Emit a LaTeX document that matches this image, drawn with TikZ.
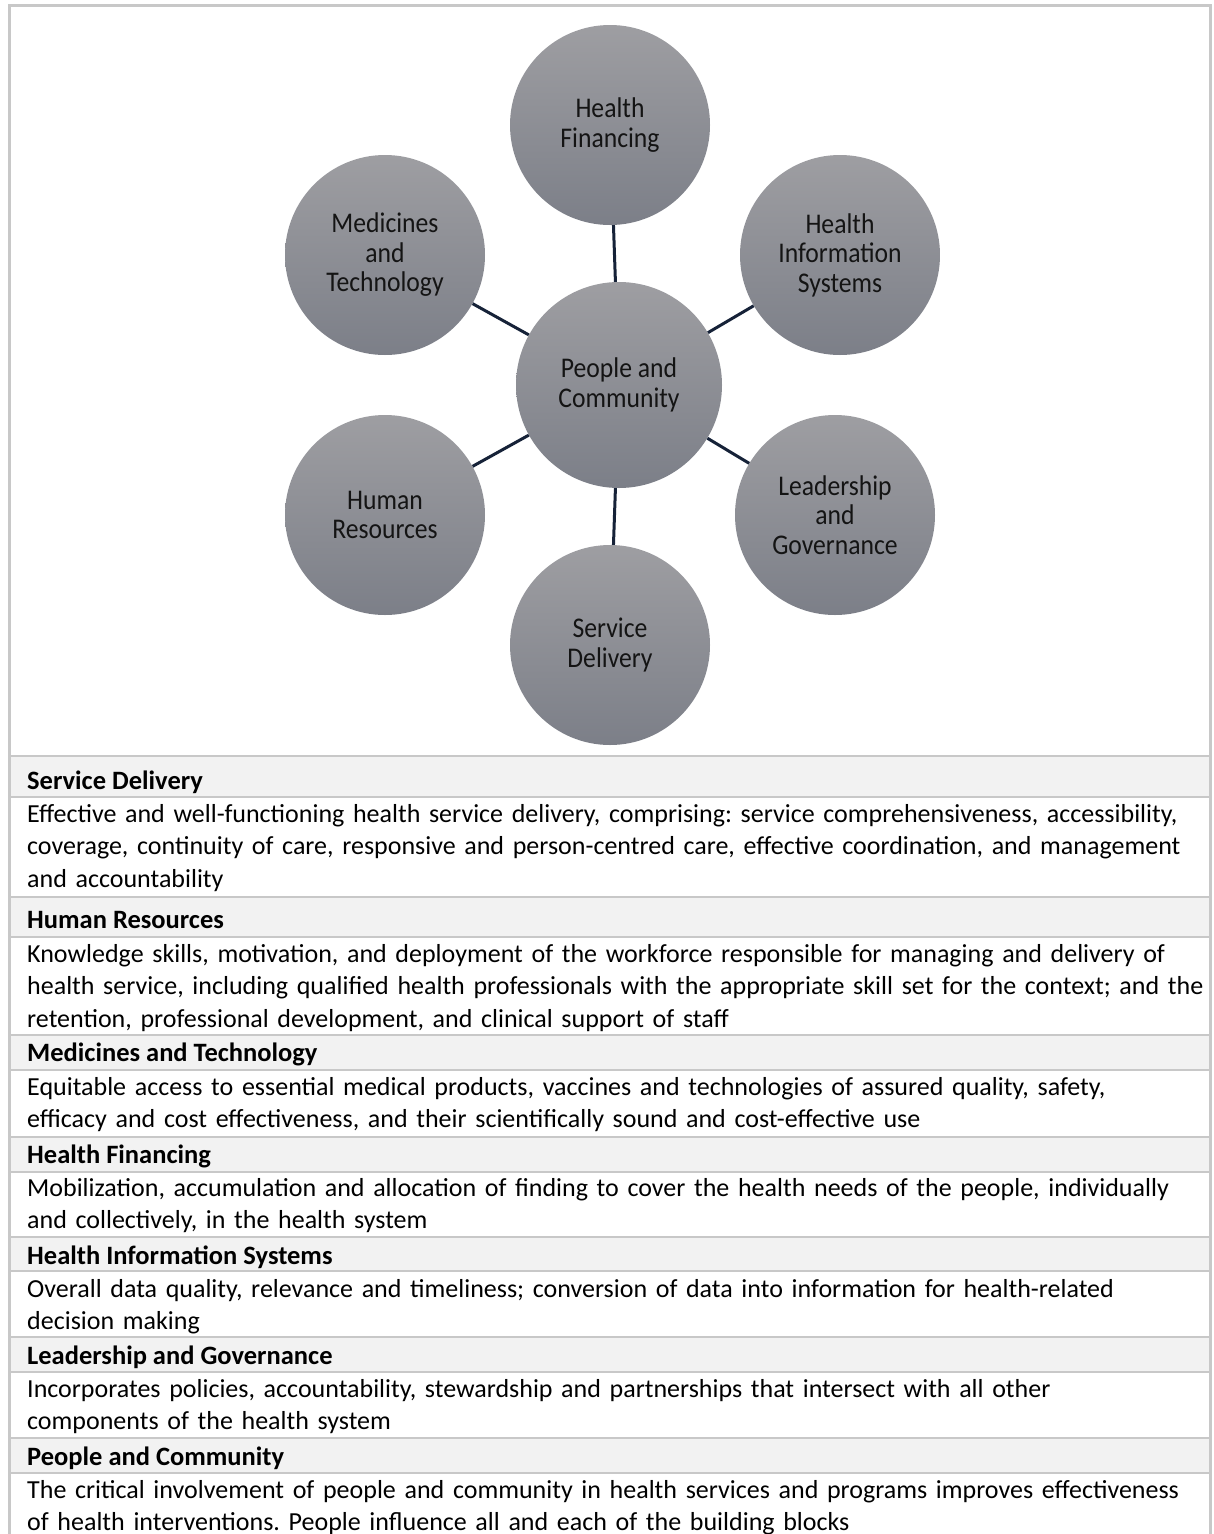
\documentclass[tikz,border=0pt]{standalone}
\usepackage{fontspec}
\setmainfont{Carlito}
\newfontfamily\bubfont{Carlito}[FakeStretch=0.9]
\newfontfamily\bodyfont{Carlito}[WordSpace=0.92]
\frenchspacing
\definecolor{bubtop}{RGB}{158,158,162}
\definecolor{bubbot}{RGB}{124,127,136}
\definecolor{linkcol}{RGB}{22,34,56}
\definecolor{framecol}{RGB}{200,200,200}
\definecolor{headfill}{RGB}{242,242,242}
\begin{document}
\begin{tikzpicture}[x=1pt,y=-1pt,
 bubble/.style={circle, minimum size=200pt, inner sep=0pt, top color=bubtop, bottom color=bubbot, align=center, font=\bubfont\fontsize{28.5}{29.5}\selectfont, text={black!92}},
 hub/.style={bubble, minimum size=206pt},
 link/.style={draw=linkcol, line width=3pt},
 rowline/.style={draw=framecol, line width=2pt},
 head/.style={anchor=base west, inner sep=0pt, font=\bfseries\fontsize{26.5}{33}\selectfont},
 body/.style={anchor=base west, inner sep=0pt, text width=1400pt, align=left, font=\bodyfont\frenchspacing\fontsize{26}{32.5}\selectfont},
]
\useasboundingbox (0,0) rectangle (1214,1534);
\fill[white] (0,0) rectangle (1214,1534);

% header fills
\foreach \a/\b in {756/797, 897/937, 1035/1070, 1137/1172, 1237/1271, 1337/1372, 1438/1473}
  \fill[headfill] (9,\a) rectangle (1210,\b);
% row lines
\foreach \a in {756, 797, 897, 937, 1035, 1070, 1137, 1172, 1237, 1271, 1337, 1372, 1438, 1473}
  \draw[rowline] (9,\a) -- (1210,\a);
% outer frame
\draw[draw=framecol, line width=3pt] (9,5) rectangle (1210,1570);

% circles
\node[hub]    (pc) at (619,385) {People and\\Community};
\node[bubble] (hf) at (610,125) {Health\\Financing};
\node[bubble] (his) at (840,255) {Health\\Information\\Systems};
\node[bubble] (mt) at (385,255) {Medicines\\and\\Technology};
\node[bubble] (hr) at (385,515) {Human\\Resources};
\node[bubble] (lg) at (835,515) {Leadership\\and\\Governance};
\node[bubble] (sd) at (610,645) {Service\\Delivery};
\foreach \t in {hf,his,mt,hr,lg,sd}
  \draw[link] (pc) -- (\t);

% table text
\node[head] (h1) at (27,789) {Service Delivery};
\node[body] (b1) at (27,822) {Effective and well-functioning health service delivery, comprising: service comprehensiveness, accessibility,\\coverage, continuity of care, responsive and person-centred care, effective coordination, and management\\and accountability};
\node[head] (h2) at (27,928) {Human Resources};
\node[body] (b2) at (27,962) {Knowledge skills, motivation, and deployment of the workforce responsible for managing and delivery of\\health service, including qualified health professionals with the appropriate skill set for the context; and the\\retention, professional development, and clinical support of staff};
\node[head] (h3) at (27,1061) {Medicines and Technology};
\node[body] (b3) at (27,1095) {Equitable access to essential medical products, vaccines and technologies of assured quality, safety,\\efficacy and cost effectiveness, and their scientifically sound and cost-effective use};
\node[head] (h4) at (27,1163) {Health Financing};
\node[body] (b4) at (27,1196) {Mobilization, accumulation and allocation of finding to cover the health needs of the people, individually\\and collectively, in the health system};
\node[head] (h5) at (27,1264) {Health Information Systems};
\node[body] (b5) at (27,1297) {Overall data quality, relevance and timeliness; conversion of data into information for health-related\\decision making};
\node[head] (h6) at (27,1364) {Leadership and Governance};
\node[body] (b6) at (27,1397) {Incorporates policies, accountability, stewardship and partnerships that intersect with all other\\components of the health system};
\node[head] (h7) at (27,1465) {People and Community};
\node[body] (b7) at (27,1498) {The critical involvement of people and community in health services and programs improves effectiveness\\of health interventions. People influence all and each of the building blocks};
\end{tikzpicture}
\end{document}
